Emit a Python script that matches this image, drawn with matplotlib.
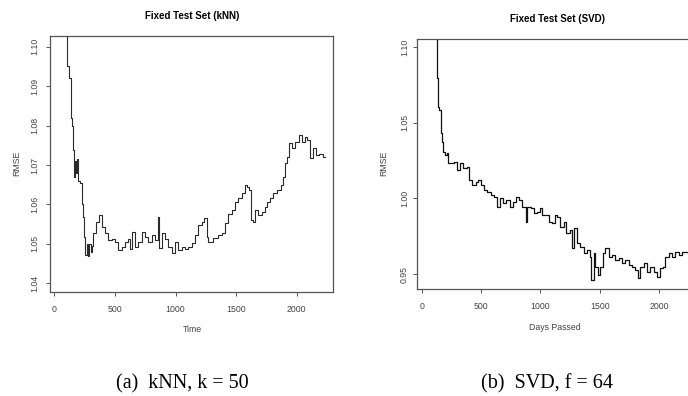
"""Fixed test set RMSE over time, kNN and SVD side by side."""

import matplotlib
matplotlib.use("Agg")
import matplotlib.pyplot as plt

# kNN, k = 50
knn_x = [107, 107, 118, 124, 135, 149, 157, 165, 170, 178, 185, 195, 212, 225,
         236, 245, 256, 267, 278, 290, 300, 308, 322, 344, 371, 391, 418, 446,
         473, 501, 528, 556, 583, 611, 625, 644, 666, 693, 721, 748, 776, 804,
         831, 858, 866, 886, 913, 941, 968, 996, 1023, 1051, 1078, 1106, 1133,
         1161, 1188, 1216, 1235, 1257, 1271, 1312, 1353, 1381, 1409, 1436, 1464,
         1491, 1519, 1546, 1574, 1593, 1609, 1620, 1637, 1656, 1684, 1711, 1738,
         1752, 1780, 1807, 1840, 1868, 1890, 1904, 1917, 1936, 1959, 1986, 2022,
         2041, 2069, 2088, 2110, 2138, 2160, 2187, 2220, 2235]
knn_y = [1.115, 1.095, 1.094, 1.092, 1.0818, 1.0800, 1.0738, 1.067, 1.071,
         1.068, 1.0715, 1.066, 1.0654, 1.060, 1.0569, 1.0518, 1.0472, 1.050,
         1.047, 1.050, 1.048, 1.0495, 1.0527, 1.0556, 1.0573, 1.0544, 1.0527,
         1.0510, 1.0513, 1.0505, 1.0484, 1.0493, 1.0505, 1.0513, 1.0488, 1.0531,
         1.0493, 1.0505, 1.0531, 1.0518, 1.0505, 1.0522, 1.0510, 1.0569, 1.0489,
         1.0527, 1.0513, 1.0493, 1.0476, 1.0505, 1.0484, 1.0493, 1.0488, 1.0493,
         1.0501, 1.0522, 1.0548, 1.0556, 1.0565, 1.0518, 1.0506, 1.0514, 1.0523,
         1.0527, 1.0552, 1.0577, 1.0586, 1.0607, 1.0616, 1.0628, 1.0649, 1.0645,
         1.0637, 1.0560, 1.0556, 1.0586, 1.0573, 1.0582, 1.0594, 1.0607, 1.0616,
         1.0628, 1.0637, 1.0649, 1.0670, 1.0704, 1.0721, 1.0755, 1.0742, 1.0759,
         1.0776, 1.0759, 1.0772, 1.0763, 1.0717, 1.0742, 1.0725, 1.0729, 1.0721,
         1.0720]

# SVD, f = 64
svd_x = [132, 132, 137, 148, 160, 168, 179, 193, 210, 221, 244, 272, 294, 322,
         350, 378, 398, 426, 454, 473, 496, 524, 552, 580, 608, 636, 658, 686,
         714, 742, 770, 798, 818, 846, 874, 877, 888, 916, 944, 972, 1000, 1014,
         1042, 1070, 1098, 1118, 1140, 1168, 1196, 1218, 1246, 1266, 1286, 1308,
         1336, 1364, 1392, 1420, 1429, 1448, 1462, 1482, 1504, 1527, 1546, 1574,
         1602, 1630, 1658, 1686, 1714, 1742, 1770, 1798, 1818, 1840, 1868, 1896,
         1924, 1952, 1980, 2008, 2031, 2050, 2078, 2106, 2134, 2162, 2190, 2232]
svd_y = [1.12, 1.0795, 1.0607, 1.0585, 1.0431, 1.0376, 1.031, 1.0287, 1.0298,
         1.0232, 1.0232, 1.0243, 1.0188, 1.0232, 1.0199, 1.021, 1.0122, 1.0089,
         1.0111, 1.0122, 1.0089, 1.0056, 1.0045, 1.0023, 1.0012, 0.9946, 1.0001,
         0.9968, 0.999, 0.9946, 0.9979, 1.0012, 0.999, 0.9946, 0.9934, 0.9846,
         0.9946, 0.9934, 0.9901, 0.9912, 0.9934, 0.989, 0.989, 0.9846, 0.9835,
         0.989, 0.9879, 0.9813, 0.9846, 0.9769, 0.9791, 0.967, 0.9802, 0.9703,
         0.9681, 0.9637, 0.9659, 0.9615, 0.946, 0.9637, 0.9548, 0.9493, 0.9548,
         0.9637, 0.967, 0.9615, 0.9626, 0.9593, 0.9604, 0.957, 0.9593, 0.956,
         0.9548, 0.9526, 0.9471, 0.9548, 0.957, 0.9515, 0.9548, 0.9515, 0.9482,
         0.9537, 0.9548, 0.9615, 0.9637, 0.9615, 0.9648, 0.9626, 0.9648, 0.9648]

x_ticks = [0, 500, 1000, 1500, 2000]
knn_yticks = [1.04, 1.05, 1.06, 1.07, 1.08, 1.09, 1.10]
svd_yticks = [0.95, 1.00, 1.05, 1.10]

W, H = 688, 396
fig = plt.figure(figsize=(W / 100, H / 100), dpi=100)

sans = ["Liberation Sans", "DejaVu Sans"]
serif = ["Liberation Serif", "DejaVu Serif"]
grey = "#555555"


def px_axes(x0, y0, x1, y1):
    return fig.add_axes([x0 / W, 1 - y1 / H, (x1 - x0) / W, (y1 - y0) / H])


def style(ax, yticks, ypad):
    for s in ax.spines.values():
        s.set_color(grey)
        s.set_linewidth(0.9)
    ax.set_xticks(x_ticks)
    ax.set_xticklabels([str(t) for t in x_ticks])
    ax.set_yticks(yticks)
    ax.set_yticklabels([f"{t:.2f}" for t in yticks])
    ax.tick_params(direction="out", length=2.6, width=0.7, color=grey,
                   labelcolor="#444444", labelsize=6.3)
    ax.tick_params(axis="x", pad=6.6)
    ax.tick_params(axis="y", pad=ypad)
    for lab in ax.get_xticklabels() + ax.get_yticklabels():
        lab.set_family(sans)
    for lab in ax.get_yticklabels():
        lab.set_rotation(90)
        lab.set_va("center")


ax1 = px_axes(50, 36, 333, 292)
ax1.plot(knn_x, knn_y, color="#2a2a2a", lw=0.8, drawstyle="steps-post")
ax1.set_xlim(-36, 2300)
ax1.set_ylim(1.0378, 1.1027)
style(ax1, knn_yticks, 5.2)

ax2 = px_axes(417, 39, 695, 289)
ax2.plot(svd_x, svd_y, color="#111111", lw=0.9, drawstyle="steps-post")
ax2.set_xlim(-39, 2300)
ax2.set_ylim(0.9401, 1.1055)
style(ax2, svd_yticks, 3.3)


def ftxt(x, y, s, **kw):
    fig.text(x / W, 1 - y / H, s, ha="center", va="center", **kw)


ftxt(192, 16, "Fixed Test Set (kNN)", family=sans, weight="bold", size=7)
ftxt(558, 19, "Fixed Test Set (SVD)", family=sans, weight="bold", size=7)
ftxt(192, 329, "Time", family=sans, size=6.3, color="#444444")
ftxt(555, 328, "Days Passed", family=sans, size=6.3, color="#444444")
ftxt(17, 163, "RMSE", family=sans, size=6.3, color="#444444", rotation=90)
ftxt(384, 163, "RMSE", family=sans, size=6.3, color="#444444", rotation=90)
ftxt(182, 384, "(a)  kNN, k = 50", family=serif, size=14.5)
ftxt(547, 384, "(b)  SVD, f = 64", family=serif, size=14.5)

fig.savefig("out.png", dpi=100)
